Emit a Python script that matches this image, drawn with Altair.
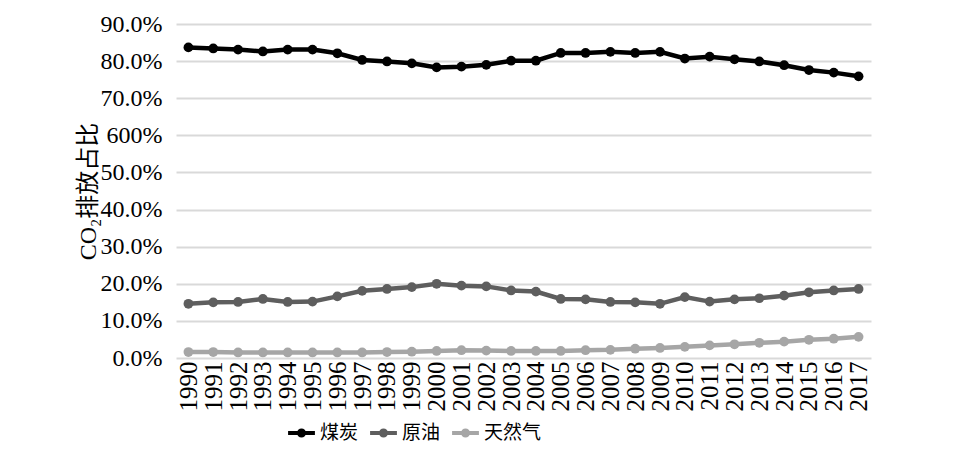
import altair as alt
import pandas as pd

years = list(range(1990, 2018))
coal = [83.7, 83.4, 83.1, 82.6, 83.1, 83.1, 82.1, 80.3, 79.9, 79.4, 78.3, 78.5, 79.0, 80.1,
        80.1, 82.2, 82.2, 82.5, 82.2, 82.5, 80.7, 81.2, 80.5, 79.9, 78.9, 77.6, 76.9, 75.9]
oil = [14.6, 15.0, 15.1, 15.9, 15.1, 15.2, 16.6, 18.1, 18.6, 19.1, 20.0, 19.5, 19.3, 18.2,
       17.9, 15.9, 15.8, 15.1, 15.0, 14.6, 16.4, 15.2, 15.8, 16.1, 16.8, 17.7, 18.2, 18.6]
gas = [1.6, 1.6, 1.5, 1.5, 1.5, 1.5, 1.5, 1.5, 1.6, 1.7, 1.9, 2.1, 2.0, 1.9,
       1.9, 1.9, 2.1, 2.2, 2.5, 2.7, 3.0, 3.4, 3.7, 4.1, 4.4, 4.9, 5.2, 5.7]
series_names = ["煤炭", "原油", "天然气"]
series_colors = ["#000000", "#5e5e5e", "#a6a6a6"]
y_ticks = [0, 10, 20, 30, 40, 50, 60, 70, 80, 90]

rows = []
for name, vals in zip(series_names, [coal, oil, gas]):
    for yr, v in zip(years, vals):
        rows.append({"year": str(yr), "value": v, "series": name})
df = pd.DataFrame(rows)

serif = "Liberation Serif, Noto Sans CJK SC"
cjk = "Noto Sans CJK SC"

symbol_path = ("M-1,0H1 M0,-0.19 A0.19,0.19 0 1,1 0,0.19 "
               "A0.19,0.19 0 1,1 0,-0.19")

color = alt.Color(
    "series:N",
    scale=alt.Scale(domain=series_names, range=series_colors),
    sort=series_names,
    legend=alt.Legend(
        title=None, orient="none", direction="horizontal",
        legendX=110, legendY=393,
        symbolType=symbol_path, symbolSize=720, symbolStrokeWidth=4,
        labelFont=cjk, labelFontSize=19, labelColor="#000000",
        columnPadding=3, labelOffset=3,
    ),
)

base = alt.Chart(df).encode(
    x=alt.X(
        "year:O", title=None,
        scale=alt.Scale(padding=0.5),
        axis=alt.Axis(labelAngle=-90, labelFont=serif, labelFontSize=25,
                      labelColor="#000000", ticks=False, domain=False,
                      labelPadding=3, grid=False),
    ),
    y=alt.Y(
        "value:Q", title="CO₂排放占比",
        scale=alt.Scale(domain=[0, 90], nice=False),
        axis=alt.Axis(values=y_ticks,
                      labelExpr="datum.value == 60 ? '600%' : format(datum.value, '.1f') + '%'",
                      labelFont=serif, labelFontSize=24, labelColor="#000000",
                      ticks=False, domain=False, labelPadding=14,
                      gridColor="#d9d9d9", gridWidth=2,
                      titleFont=serif, titleFontSize=24, titleFontWeight="normal",
                      titleColor="#000000", titlePadding=0),
    ),
    color=color,
)

lines = base.mark_line(strokeWidth=4.5)
points = base.mark_point(filled=True, size=95, opacity=1)

chart = (lines + points).properties(
    width=695, height=334,
    autosize=alt.AutoSizeParams(type="none"),
    padding={"left": 168, "top": 16, "right": 60, "bottom": 95},
).configure_view(stroke=None)

chart.save("out.html", embed_options={"renderer": "svg", "actions": False})
